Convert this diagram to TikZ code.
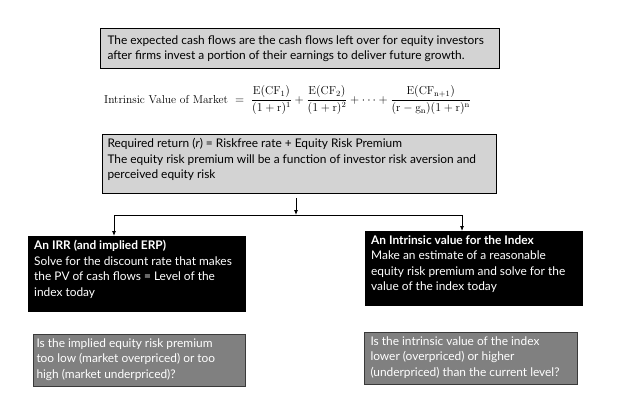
\documentclass[tikz,border=0pt]{standalone}
\usepackage{fontspec}
\usepackage{amsmath}
\newfontfamily\boxfont{Lato}
\usetikzlibrary{arrows.meta}

\definecolor{lightbox}{HTML}{D3D3D3}
\definecolor{darkbox}{HTML}{808080}
\definecolor{darkedge}{HTML}{3A3A3A}

% text block of a box: height, width, text
\newcommand{\boxtext}[3]{\parbox[c][#1][t]{#2}{\raggedright\boxfont\fontsize{11.9}{15.6}\selectfont #3}}

\begin{document}
\begin{tikzpicture}[x=1pt,y=-1pt]
  \tikzstyle{every node}=[anchor=north west]
  \tikzstyle{note}=[draw=black,line width=1pt,fill=lightbox,inner xsep=5pt,inner ysep=4pt]
  \tikzstyle{method}=[fill=black,text=white,inner xsep=6pt,inner ysep=4pt]
  \tikzstyle{question}=[draw=darkedge,line width=1pt,fill=darkbox,text=white,inner xsep=4pt,inner ysep=4pt]
  \tikzstyle{arrow}=[line width=0.8pt,-{Latex[length=5pt,width=4pt]}]
  \useasboundingbox (0,0) rectangle (618,404);

  \node[note,inner xsep=7pt,inner ysep=3pt] (flows) at (100,28)
    {\parbox[c][34pt][c]{385pt}{\boxfont\fontsize{11.9}{14.5}\selectfont
      The expected cash flows are the cash flows left over for equity investors\\
      after firms invest a portion of their earnings to deliver future growth.}};

  \node[anchor=base west,inner sep=0pt,font=\fontsize{11.5}{14}\selectfont] (value) at (104,103)
    {Intrinsic Value of Market $\;=\;
      \dfrac{\mathrm{E(CF_1)}}{(1+\mathrm{r})^1}+\dfrac{\mathrm{E(CF_2)}}{(1+\mathrm{r})^2}+\cdots+
      \dfrac{\mathrm{E(CF_{n+1})}}{(\mathrm{r}-\mathrm{g_n})(1+\mathrm{r})^{\mathrm{n}}}$};

  \node[note] (return) at (102,134)
    {\boxtext{51pt}{384pt}{Required return (\textit{r}) = Riskfree rate + Equity Risk Premium\\
      The equity risk premium will be a function of investor risk aversion and\\
      perceived equity risk}};

  \node[method] (irr) at (28,236)
    {\boxtext{68pt}{206pt}{\textbf{An IRR (and implied ERP)}\\
      Solve for the discount rate that makes\\the PV of cash flows = Level of the\\
      index today}};
  \node[method] (intrinsic) at (365,231)
    {\boxtext{67pt}{206pt}{\textbf{An Intrinsic value for the Index}\\
      Make an estimate of a reasonable\\equity risk premium and solve for the\\
      value of the index today}};

  \node[question,inner xsep=3pt] (implied) at (33,334)
    {\boxtext{44pt}{206pt}{Is the implied equity risk premium\\too low (market
      overpriced) or too\\high (market underpriced)?}};
  \node[question,inner xsep=6pt] (level) at (364,332)
    {\boxtext{44pt}{201pt}{Is the intrinsic value of the index\\lower (overpriced)
      or higher\\(underpriced) than the current level?}};

  % split of the arrow
  \coordinate (split) at (296,215);
  \coordinate (lbend) at (114,215);
  \coordinate (rbend) at (462,215);
  \draw[arrow,shorten <=4pt] (return.south -| split) -- (split);
  \draw[arrow] (rbend) -- (lbend) -- (lbend |- irr.north);
  \draw[arrow] (rbend) -- (rbend |- intrinsic.north);
\end{tikzpicture}
\end{document}
